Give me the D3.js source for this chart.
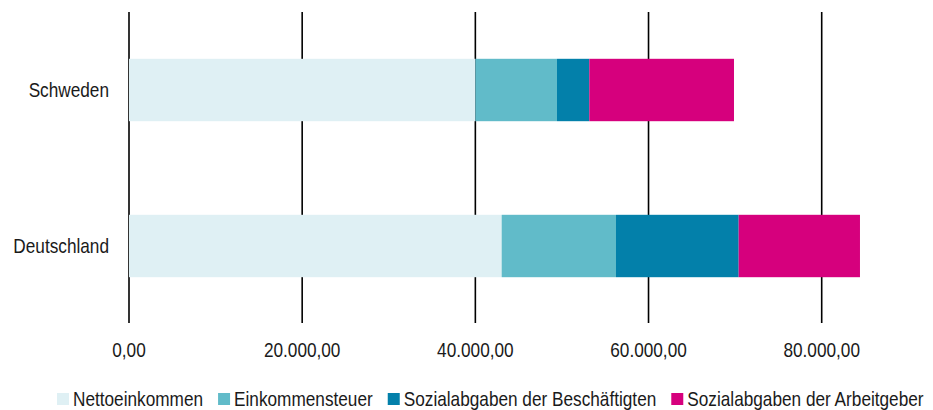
<!DOCTYPE html>
<html>
<head>
<meta charset="utf-8">
<script src="https://cdn.jsdelivr.net/npm/d3@7"></script>
<style>
  body { margin: 0; background: #fff; }
  text { font-family: "Liberation Sans", Arial, sans-serif; font-size: 21px; fill: #1a1a1a; }
</style>
</head>
<body>
<div id="chart"></div>
<script>
"use strict";
// categories top to bottom
var countries = ["Schweden", "Deutschland"];
var series = ["Nettoeinkommen", "Einkommensteuer", "Sozialabgaben der Beschäftigten", "Sozialabgaben der Arbeitgeber"];
var colors = ["#dff0f4", "#61bbc9", "#0380aa", "#d6007d"];
// values per series, same order as countries
var netto = [40000, 43040];
var steuer = [9430, 13200];
var sozialAN = [3730, 14170];
var sozialAG = [16710, 14010];
var xTicks = [0, 20000, 40000, 60000, 80000];

var w = 933, h = 410;
var plotLeft = 129, plotRight = 821.7, plotTop = 12, plotBottom = 323;
//no narrow font installed, squeeze regular sans instead
var narrow = 0.82;

var svg = d3.select("#chart").append("svg").attr("width", w).attr("height", h);

var x = d3.scaleLinear().domain([0, 80000]).range([plotLeft, plotRight]);
var y = d3.scaleBand().domain(countries).range([plotTop, plotBottom + 1]).paddingInner(0.6).paddingOuter(0.3);

var fmt = function(v) {
  var s = d3.format(",.2f")(v);
  return s.replace(/,/g, "#").replace(".", ",").replace(/#/g, ".");
};

function place(px, py) {
  return "translate(" + px + "," + py + ") scale(" + narrow + ",1)";
}

// grid lines
svg.append("g").selectAll("line").data(xTicks).join("line")
  .attr("x1", function(d) { return x(d); })
  .attr("x2", function(d) { return x(d); })
  .attr("y1", plotTop).attr("y2", plotBottom)
  .attr("stroke", "#000").attr("stroke-width", 1.6);

// stacked bars
var rows = countries.map(function(c, i) {
  return { country: c, s0: netto[i], s1: steuer[i], s2: sozialAN[i], s3: sozialAG[i] };
});
var stack = d3.stack().keys(["s0", "s1", "s2", "s3"])(rows);

svg.append("g").selectAll("g").data(stack).join("g")
  .attr("fill", function(d, i) { return colors[i]; })
  .selectAll("rect").data(function(d) { return d; }).join("rect")
  .attr("x", function(d) { return x(d[0]); })
  .attr("width", function(d) { return x(d[1]) - x(d[0]); })
  .attr("y", function(d) { return y(d.data.country); })
  .attr("height", y.bandwidth());

// y labels
svg.append("g").selectAll("text").data(countries).join("text")
  .attr("transform", function(d) { return place(plotLeft - 20, y(d) + y.bandwidth() / 2); })
  .attr("dy", "0.35em")
  .attr("text-anchor", "end")
  .text(function(d) { return d; });

// x tick labels
svg.append("g").selectAll("text").data(xTicks).join("text")
  .attr("transform", function(d) { return place(x(d), 357); })
  .attr("text-anchor", "middle")
  .text(fmt);

// legend
var lg = svg.append("g");
var lx = 57;
series.forEach(function(s, i) {
  lg.append("rect").attr("x", lx).attr("y", 393).attr("width", 12).attr("height", 12).attr("fill", colors[i]);
  var t = lg.append("text").attr("transform", place(lx + 16, 406)).text(s);
  lx += 16 + t.node().getComputedTextLength() * narrow + 15;
});
</script>
</body>
</html>
